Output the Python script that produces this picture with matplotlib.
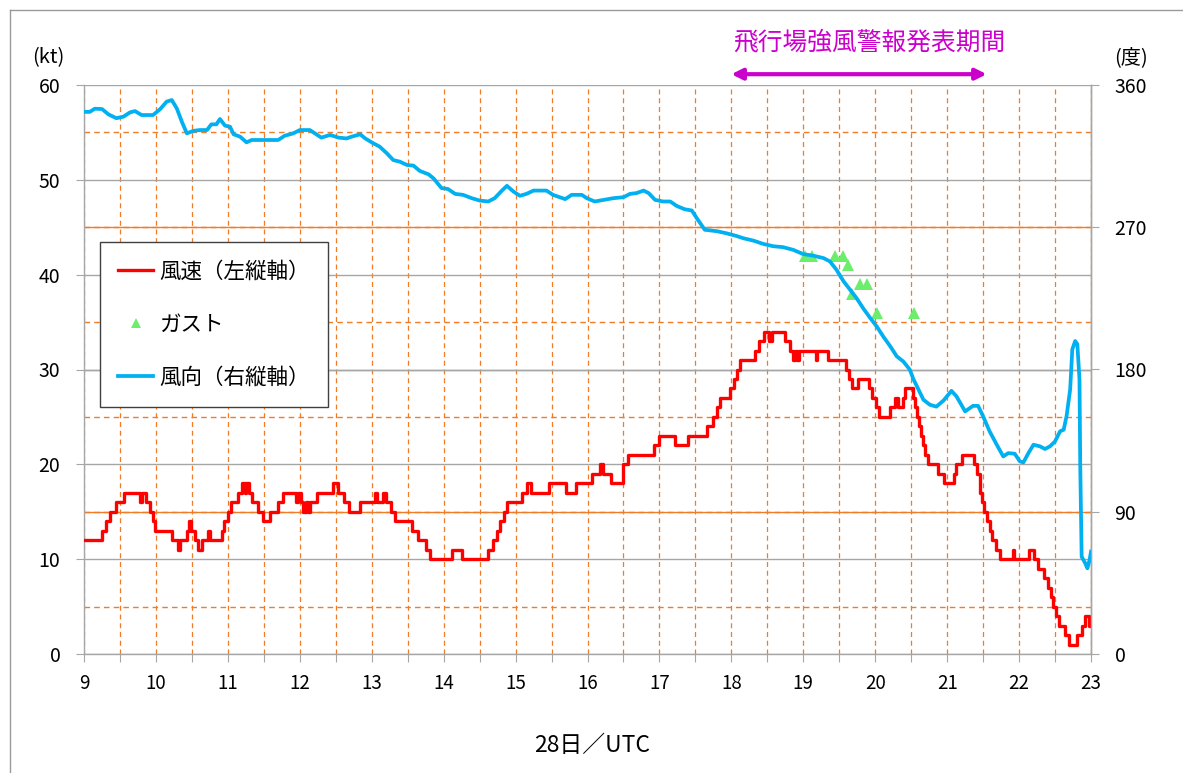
import numpy as np
import matplotlib
matplotlib.use("Agg")
import matplotlib.pyplot as plt
from matplotlib.lines import Line2D
from matplotlib.transforms import blended_transform_factory

plt.rcParams['font.family'] = ['Noto Sans CJK JP', 'DejaVu Sans']

# wind speed (kt), value holds from each time until the next one
speed_time = [9.00, 9.25, 9.31, 9.36, 9.45, 9.56, 9.78, 9.81, 9.86, 9.92, 9.96, 9.99,
              10.22, 10.31, 10.34, 10.43, 10.46, 10.49, 10.54, 10.59, 10.64, 10.72, 10.75,
              10.92, 10.95, 11.00, 11.04, 11.14, 11.19, 11.235, 11.25, 11.29, 11.33, 11.42,
              11.49, 11.58, 11.70, 11.77, 11.95, 11.98, 12.01, 12.05, 12.08, 12.11, 12.14,
              12.24, 12.46, 12.53, 12.62, 12.69, 12.84, 13.04, 13.08, 13.16, 13.20, 13.27,
              13.32, 13.56, 13.65, 13.76, 13.81, 14.11, 14.26, 14.62, 14.68, 14.74, 14.79,
              14.84, 14.88, 15.09, 15.16, 15.22, 15.46, 15.70, 15.84, 16.06, 16.18, 16.22,
              16.32, 16.50, 16.56, 16.92, 16.99, 17.22, 17.40, 17.66, 17.75, 17.80, 17.84,
              17.98, 18.03, 18.08, 18.12, 18.33, 18.38, 18.45, 18.52, 18.56, 18.74, 18.82,
              18.86, 18.89, 18.91, 18.94, 19.17, 19.19, 19.34, 19.60, 19.64, 19.68, 19.76,
              19.91, 19.95, 20.01, 20.05, 20.21, 20.28, 20.31, 20.38, 20.41, 20.52, 20.56,
              20.58, 20.61, 20.63, 20.66, 20.69, 20.73, 20.87, 20.96, 21.10, 21.13, 21.21,
              21.38, 21.42, 21.45, 21.48, 21.51, 21.55, 21.59, 21.63, 21.68, 21.74, 21.91,
              21.93, 22.14, 22.21, 22.27, 22.34, 22.40, 22.44, 22.47, 22.51, 22.56, 22.64,
              22.69, 22.81, 22.87, 22.92, 22.97, 23.00]
speed_kt = [12, 13, 14, 15, 16, 17, 16, 17, 16, 15, 14, 13,
            12, 11, 12, 13, 14, 13, 12, 11, 12, 13, 12,
            13, 14, 15, 16, 17, 18, 17, 18, 17, 16, 15,
            14, 15, 16, 17, 16, 17, 16, 15, 16, 15, 16,
            17, 18, 17, 16, 15, 16, 17, 16, 17, 16, 15,
            14, 13, 12, 11, 10, 11, 10, 11, 12, 13, 14,
            15, 16, 17, 18, 17, 18, 17, 18, 19, 20, 19,
            18, 20, 21, 22, 23, 22, 23, 24, 25, 26, 27,
            28, 29, 30, 31, 32, 33, 34, 33, 34, 33, 32,
            31, 32, 31, 32, 31, 32, 31, 30, 29, 28, 29,
            28, 27, 26, 25, 26, 27, 26, 27, 28, 27, 26,
            25, 24, 23, 22, 21, 20, 19, 18, 19, 20, 21,
            20, 19, 17, 16, 15, 14, 13, 12, 11, 10, 11,
            10, 11, 10, 9, 8, 7, 6, 5, 4, 3, 2,
            1, 2, 3, 4, 3, 3]

# gusts (kt)
gust_time = [19.02, 19.12, 19.44, 19.55, 19.62, 19.68, 19.79, 19.89, 20.02, 20.54]
gust_kt = [42, 42, 42, 42, 41, 38, 39, 39, 36, 36]

# wind direction (deg)
dir_time = [9.00, 9.08, 9.15, 9.25, 9.34, 9.45, 9.55, 9.64, 9.71, 9.80, 9.96, 10.06,
            10.15, 10.22, 10.29, 10.36, 10.43, 10.52, 10.61, 10.71, 10.77, 10.84, 10.89,
            10.96, 11.03, 11.08, 11.17, 11.26, 11.33, 11.45, 11.54, 11.70, 11.79, 11.91,
            12.00, 12.14, 12.21, 12.30, 12.42, 12.54, 12.65, 12.72, 12.84, 12.91, 13.00,
            13.11, 13.21, 13.30, 13.39, 13.49, 13.58, 13.67, 13.79, 13.86, 13.97, 14.06,
            14.16, 14.27, 14.39, 14.50, 14.62, 14.71, 14.81, 14.88, 14.97, 15.06, 15.15,
            15.25, 15.43, 15.52, 15.69, 15.78, 15.92, 15.99, 16.10, 16.22, 16.36, 16.50,
            16.59, 16.68, 16.78, 16.85, 16.94, 17.05, 17.15, 17.24, 17.35, 17.45, 17.52,
            17.63, 17.80, 17.93, 18.07, 18.17, 18.31, 18.44, 18.58, 18.72, 18.86, 19.00,
            19.14, 19.28, 19.37, 19.46, 19.56, 19.65, 19.74, 19.83, 19.93, 20.02, 20.11,
            20.21, 20.30, 20.39, 20.48, 20.53, 20.58, 20.67, 20.76, 20.85, 20.95, 21.06,
            21.13, 21.25, 21.36, 21.43, 21.50, 21.59, 21.69, 21.78, 21.85, 21.94, 22.01,
            22.06, 22.13, 22.20, 22.29, 22.36, 22.43, 22.50, 22.57, 22.62, 22.66, 22.71,
            22.74, 22.78, 22.81, 22.84, 22.85, 22.87, 22.92, 22.95, 22.98, 23.00]
dir_deg = [343, 343, 345, 344.8, 341.4, 339, 340, 342.7, 343.5, 341, 341, 344.8,
           349.5, 350.5, 345.2, 336.8, 329.4, 331, 331.5, 331.5, 335.1, 335.1, 338.5,
           334.3, 333.6, 328.8, 327.3, 323.7, 325.2, 325.2, 325.2, 325.2, 327.9, 329.4,
           331.5, 331.5, 329.4, 326.7, 328.4, 326.7, 326.2, 327.3, 328.8, 326.2, 323.7,
           321, 316.8, 312.5, 311.5, 309.4, 309, 305.6, 303.5, 300.9, 294.8, 294.2,
           291.1, 290.5, 288.4, 286.9, 286.3, 288.4, 293.2, 296.2, 292.6, 289.9, 291.1,
           293.2, 293.2, 290.5, 287.8, 290.5, 290.5, 288.4, 286.3, 287.3, 288.4, 289,
           291.1, 291.6, 293.2, 291.6, 287.3, 286.3, 286.3, 283.5, 281.4, 280.6, 275.7,
           268.4, 267.5, 266.2, 264.5, 263, 261.5, 259.5, 258, 257.4, 255.7, 253,
           252, 250.5, 248.4, 243.2, 235.8, 230.5, 225.2, 218.9, 212.6, 207.3, 201,
           194.6, 188.3, 185.1, 180, 174, 169.3, 160.9, 157.7, 156.5, 160.4, 166.5,
           163, 153.5, 157, 157, 150.4, 140.9, 132.4, 125, 127.1, 126.7, 121.9,
           121.2, 127.1, 132.4, 131.4, 129.7, 131.4, 134.5, 140.9, 141.9, 150.4, 167.3,
           192.7, 198, 196, 173.7, 120.8, 61.6, 57.4, 54.2, 59.5, 64.8]

hour_ticks = list(range(9, 24))
kt_ticks = list(range(0, 61, 10))
deg_ticks = [0, 90, 180, 270, 360]
warn_start, warn_end = 18.0, 21.55

labels = ["風速（左縦軸）", "ガスト", "風向（右縦軸）"]
red = "#FF0000"
blue = "#00B0F0"
green = "#6CEE6C"
orange = "#F07C28"
gray = "#A6A6A6"
magenta = "#CC00CC"
dash = (0, (4, 3))

W, H = 1183, 773
fig = plt.figure(figsize=(W / 100, H / 100), dpi=100)
ax = fig.add_axes([84 / W, 1 - 654 / H, (1091 - 84) / W, (654 - 85) / H])
ax2 = ax.twinx()

ax.step(speed_time, speed_kt, where="post", color=red, lw=2.4,
        solid_joinstyle="round", zorder=3)
ax.plot(gust_time, gust_kt, ls="none", marker="^", color=green, ms=8,
        markeredgewidth=0, zorder=4)
ax2.plot(dir_time, dir_deg, color=blue, lw=2.7, zorder=3)

ax.set_xlim(9, 23)
ax.set_ylim(0, 60)
ax2.set_ylim(0, 360)

ax.set_xticks(hour_ticks)
ax.set_xticks(np.arange(9.5, 23, 1), minor=True)
ax.set_yticks(kt_ticks)
ax.set_yticks(np.arange(5, 60, 10), minor=True)
ax2.set_yticks(deg_ticks)

ax.set_axisbelow(True)
ax.grid(axis="x", which="both", color=orange, ls=dash, lw=0.9)
ax.grid(axis="y", which="minor", color=orange, ls=dash, lw=1.0)
ax.grid(axis="y", which="major", color=gray, lw=1.0)
# right axis gridlines
for d in deg_ticks[1:-1]:
    ax.axhline(d * 60 / 360, color=orange, lw=1.0, zorder=0.4)

for a in (ax, ax2):
    a.spines["top"].set_visible(False)
    for s in a.spines.values():
        s.set_color(gray)
        s.set_linewidth(1.0)
ax2.spines["left"].set_visible(False)
ax2.spines["bottom"].set_visible(False)

ax.tick_params(axis="x", which="both", direction="out", length=6, width=0.8,
               color=gray, pad=8, labelsize=13.5)
ax.tick_params(axis="y", which="major", direction="out", length=6, width=0.8,
               color=gray, pad=11, labelsize=14)
ax.tick_params(axis="y", which="minor", length=0)
ax2.tick_params(axis="y", direction="out", length=6, width=0.8,
                color=gray, pad=11, labelsize=14)

handles = [Line2D([], [], color=red, lw=2.4),
           Line2D([], [], ls="none", marker="^", color=green, ms=7, markeredgewidth=0),
           Line2D([], [], color=blue, lw=2.7)]
leg = ax2.legend(handles, labels, loc="upper left", bbox_to_anchor=(0.0159, 0.724),
                 borderaxespad=0, frameon=True, fancybox=False, edgecolor="#404040",
                 framealpha=1, fontsize=15.5, handlelength=1.6, handletextpad=0.3,
                 labelspacing=1.45, borderpad=0.85)
leg.get_frame().set_linewidth(1.0)

tr = blended_transform_factory(ax.transData, ax.transAxes)
ax.annotate("", xy=(warn_start, 1.019), xytext=(warn_end, 1.019), xycoords=tr,
            textcoords=tr, annotation_clip=False,
            arrowprops=dict(arrowstyle="<|-|>", color=magenta, lw=3,
                            mutation_scale=16, shrinkA=0, shrinkB=0))
ax.text(warn_start + 0.02, 1.0756, "飛行場強風警報発表期間", transform=tr,
        color=magenta, fontsize=17.8, ha="left", va="center")

fig.text(48 / W, 1 - 58 / H, "(kt)", ha="center", va="center", fontsize=14.5)
fig.text(1131 / W, 1 - 58 / H, "(度)", ha="center", va="center", fontsize=14.5)
fig.text(592 / W, 1 - 745 / H, "28日／UTC", ha="center", va="center", fontsize=16.5)

# outer frame (top and left edges visible)
fig.add_artist(Line2D([10 / W, 1], [1 - 10 / H, 1 - 10 / H], color="#9A9A9A", lw=1))
fig.add_artist(Line2D([10 / W, 10 / W], [0, 1 - 10 / H], color="#9A9A9A", lw=1))

fig.savefig("out.png", dpi=100)
